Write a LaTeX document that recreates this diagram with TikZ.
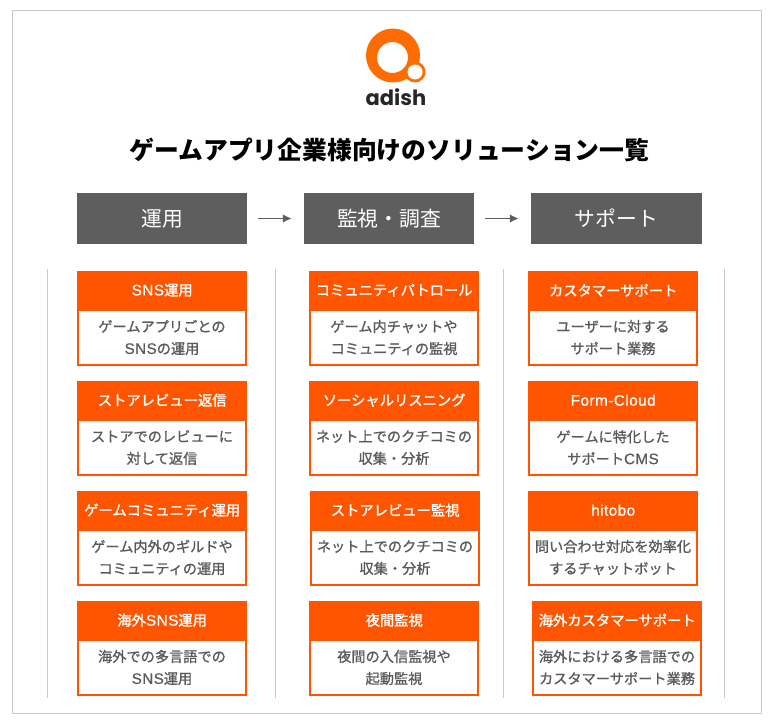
\documentclass[tikz,border=0pt]{standalone}
\usepackage{fontspec}
\setmainfont{Noto Sans CJK JP}
\newfontfamily\logofont{Poppins}
\newfontfamily\medfont[AutoFakeBold=1.0]{Noto Sans CJK JP}
\newfontfamily\semifont[AutoFakeBold=1.5]{Noto Sans CJK JP}
\newfontfamily\latfont[Scale=1.07,LetterSpace=3,AutoFakeBold=0.6]{Liberation Sans}
\newcommand{\lat}[1]{{\latfont #1}}
\definecolor{orangeA}{HTML}{FF5500}
\definecolor{logoO}{HTML}{FF6C00}
\definecolor{headG}{HTML}{5E5E5E}
\definecolor{bodyG}{HTML}{5A5A5A}
\definecolor{lineG}{HTML}{C9C9C9}
\usetikzlibrary{arrows.meta}
\tikzset{
  frame/.style={draw=lineG,line width=0.9pt,fill=white},
  stage/.style={fill=headG,text=white,minimum width=170pt,minimum height=51pt,inner sep=0pt,font=\fontsize{20.8}{24}\selectfont},
  flow/.style={draw=headG,line width=1.4pt,-{Latex[length=9pt,width=8.5pt]},shorten >=12pt,shorten <=11pt},
  divider/.style={draw=lineG,line width=1.1pt},
  solhead/.style={fill=orangeA,text=white,minimum width=170pt,minimum height=38pt,inner sep=0pt,anchor=north west,font=\semifont\bfseries\fontsize{14.3}{17}\selectfont},
  solbody/.style={draw=orangeA,line width=2pt,fill=white,text=bodyG,minimum width=168pt,minimum height=55pt,inner sep=0pt,anchor=north west,align=center,font=\medfont\bfseries\fontsize{14.2}{22}\selectfont},
}
\newcommand{\solbox}[6]{%
  \node[solbody] (#1b) at (#2,#3+38) {#5\\#6};
  \node[solhead] (#1h) at (#2,#3) {#4};
}
\begin{document}
\begin{tikzpicture}[x=1pt,y=-1pt]
\useasboundingbox (0,0) rectangle (771,720);
\fill[white] (0,0) rectangle (771,720);
\draw[frame] (12,10.5) rectangle (761,713);
% logo
\fill[logoO,even odd rule] (393,55.5) circle (27) (392.5,57.5) circle (15.5);
\fill[logoO] (415,72) circle (10.5);
\fill[white] (415,72) circle (7.5);
\node[inner sep=0pt,text=black!85,font=\logofont\fontsize{21}{26}\selectfont\bfseries] (logo) at (396,97) {adish};
\node[inner sep=0pt,text=black,font=\bfseries\fontsize{24.8}{28}\selectfont] (title) at (389.5,150) {ゲームアプリ企業様向けのソリューション一覧};
% stages
\node[stage] (s1) at (162,218.5) {運用};
\node[stage] (s2) at (389,218.5) {監視・調査};
\node[stage,minimum width=171pt] (s3) at (616.5,218.5) {サポート};
\draw[flow] (s1) -- (s2);
\draw[flow] (s2) -- (s3);
% dividers
\foreach \n/\x in {a/47.5,b/275.5,c/503.5,d/724.5}{
  \coordinate (\n t) at (\x,269);
  \coordinate (\n e) at (\x,698);
  \draw[divider] (\n t) -- (\n e);
}
% column 1
\solbox{a1}{77}{271}{\lat{SNS}運用}{ゲームアプリごとの}{\lat{SNS}の運用}
\solbox{a2}{77}{381}{ストアレビュー返信}{ストアでのレビューに}{対して返信}
\solbox{a3}{77}{491}{ゲームコミュニティ運用}{ゲーム内外のギルドや}{コミュニティの運用}
\solbox{a4}{77}{601}{海外\lat{SNS}運用}{海外での多言語での}{\lat{SNS}運用}
% column 2
\solbox{b1}{309}{271}{コミュニティパトロール}{ゲーム内チャットや}{コミュニティの監視}
\solbox{b2}{309}{381}{ソーシャルリスニング}{ネット上でのクチコミの}{収集・分析}
\solbox{b3}{310}{491}{ストアレビュー監視}{ネット上でのクチコミの}{収集・分析}
\solbox{b4}{309}{601}{夜間監視}{夜間の入信監視や}{起動監視}
% column 3
\solbox{c1}{528}{271}{カスタマーサポート}{ユーザーに対する}{サポート業務}
\solbox{c2}{528}{381}{\lat{Form-Cloud}}{ゲームに特化した}{サポート\lat{CMS}}
\solbox{c3}{528}{491}{\lat{hitobo}}{問い合わせ対応を効率化}{するチャットボット}
\solbox{c4}{532}{601}{海外カスタマーサポート}{海外における多言語での}{カスタマーサポート業務}
\end{tikzpicture}
\end{document}
